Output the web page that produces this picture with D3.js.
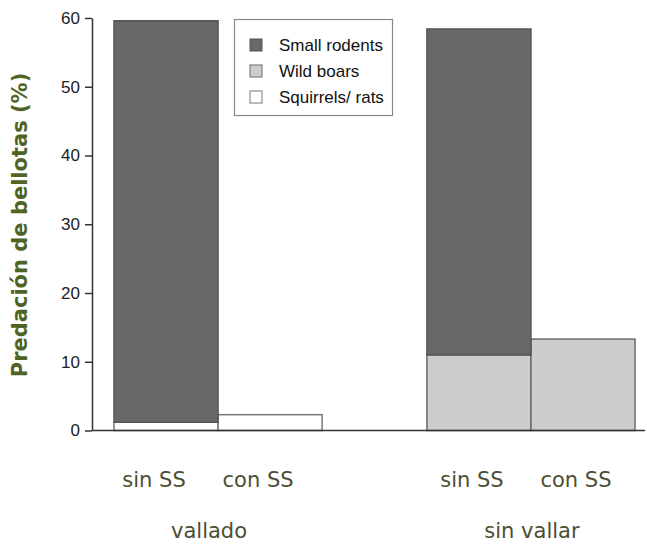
<!DOCTYPE html>
<html>
<head>
<meta charset="utf-8">
<script src="https://cdn.jsdelivr.net/npm/d3@7"></script>
<style>
  html, body { margin: 0; padding: 0; background: #fff; }
  svg { display: block; }
</style>
</head>
<body>
<svg id="chart" width="647" height="545"></svg>
<script>
// ---- Data ----
const groups = ["vallado", "sin vallar"];
const treatments = ["sin SS", "con SS"];
const seriesNames = ["Squirrels/ rats", "Wild boars", "Small rodents"]; // stacking order bottom->top
const legendOrder = ["Small rodents", "Wild boars", "Squirrels/ rats"];
const barGroup     = ["vallado", "vallado", "sin vallar", "sin vallar"];
const barTreatment = ["sin SS", "con SS", "sin SS", "con SS"];
const squirrelsRats = [1.2, 2.3, 0, 0];
const wildBoars     = [0, 0, 11.0, 13.3];
const smallRodents  = [58.4, 0, 47.4, 0];
const yTicks = [0, 10, 20, 30, 40, 50, 60];

const colors = {
  "Small rodents": "#686868",
  "Wild boars": "#cdcdcd",
  "Squirrels/ rats": "#ffffff"
};
const strokes = {
  "Small rodents": "#555",
  "Wild boars": "#6a6a6a",
  "Squirrels/ rats": "#777"
};

const svg = d3.select("#chart");

const y = d3.scaleLinear().domain([0, 60]).range([430.5, 18]);
const xGroup = d3.scaleBand().domain(groups).range([114, 635]).paddingInner(0.335).paddingOuter(0);
const xTreat = d3.scaleBand().domain(treatments).range([0, xGroup.bandwidth()]).padding(0);

const rows = barGroup.map((g, i) => ({
  group: g, treatment: barTreatment[i],
  "Squirrels/ rats": squirrelsRats[i],
  "Wild boars": wildBoars[i],
  "Small rodents": smallRodents[i]
}));
const stacked = d3.stack().keys(seriesNames)(rows);

// bars
const layer = svg.append("g");
stacked.forEach(s => {
  layer.selectAll(null)
    .data(s.filter(d => d[1] - d[0] > 0))
    .enter().append("rect")
    .attr("x", d => xGroup(d.data.group) + xTreat(d.data.treatment))
    .attr("width", xTreat.bandwidth())
    .attr("y", d => y(d[1]))
    .attr("height", d => y(d[0]) - y(d[1]))
    .attr("fill", colors[s.key])
    .attr("stroke", strokes[s.key])
    .attr("stroke-width", 1.5);
});

// y axis
const axisX = 92;
const yAxis = d3.axisLeft(y).tickValues(yTicks).tickSize(7).tickPadding(5).tickSizeOuter(0);
const ya = svg.append("g").attr("transform", `translate(${axisX},0)`).call(yAxis);
ya.select(".domain").attr("stroke", "#333").attr("stroke-width", 1.5);
ya.selectAll(".tick line").attr("stroke", "#333").attr("stroke-width", 1.5);
ya.selectAll(".tick text")
  .attr("font-family", "Liberation Sans, Arial, sans-serif")
  .attr("font-size", 17)
  .attr("fill", "#222");

// baseline
svg.append("line")
  .attr("x1", axisX).attr("x2", 645)
  .attr("y1", y(0)).attr("y2", y(0))
  .attr("stroke", "#333").attr("stroke-width", 1.5);

// x labels
const labelColor = "#4b4f33";
const subOffset = { "vallado": -12, "sin vallar": -7 };
const grpOffset = { "vallado": -9, "sin vallar": 1 };
rows.forEach(r => {
  svg.append("text")
    .attr("x", xGroup(r.group) + xTreat(r.treatment) + xTreat.bandwidth() / 2 + subOffset[r.group])
    .attr("y", 487)
    .attr("text-anchor", "middle")
    .attr("font-family", "DejaVu Sans, Verdana, sans-serif")
    .attr("font-size", 21)
    .attr("fill", labelColor)
    .text(r.treatment);
});
groups.forEach(g => {
  svg.append("text")
    .attr("x", xGroup(g) + xGroup.bandwidth() / 2 + grpOffset[g])
    .attr("y", 538)
    .attr("text-anchor", "middle")
    .attr("font-family", "DejaVu Sans, Verdana, sans-serif")
    .attr("font-size", 21)
    .attr("fill", labelColor)
    .text(g);
});

// y title
svg.append("text")
  .attr("transform", "translate(27,225) rotate(-90)")
  .attr("text-anchor", "middle")
  .attr("font-family", "DejaVu Sans, Verdana, sans-serif")
  .attr("font-weight", "bold")
  .attr("font-size", 21)
  .attr("fill", "#4f6424")
  .text("Predación de bellotas (%)");

// legend
const lg = svg.append("g");
lg.append("rect")
  .attr("x", 234.5).attr("y", 19.5).attr("width", 158).attr("height", 96)
  .attr("fill", "#fff").attr("stroke", "#888").attr("stroke-width", 1.2);
legendOrder.forEach((k, i) => {
  const cy = 45 + i * 26;
  lg.append("rect")
    .attr("x", 250).attr("y", cy - 6).attr("width", 12).attr("height", 12)
    .attr("fill", colors[k]).attr("stroke", strokes[k]).attr("stroke-width", 1);
  lg.append("text")
    .attr("x", 279).attr("y", cy + 6)
    .attr("font-family", "Liberation Sans, Arial, sans-serif")
    .attr("font-size", 17)
    .attr("fill", "#111")
    .text(k);
});
</script>
</body>
</html>
